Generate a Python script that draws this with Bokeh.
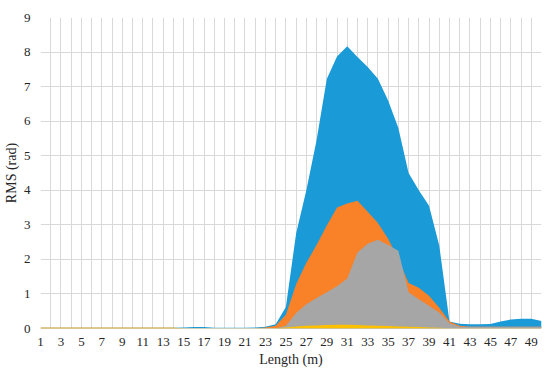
from bokeh.plotting import figure
from bokeh.models import FixedTicker, Range1d
from bokeh.embed import file_html
from bokeh.resources import INLINE

lengths = list(range(1, 51))
x_tick_labels = list(range(1, 50, 2))
y_ticks = list(range(0, 10))

series_blue = [0.02]*14 + [0.03, 0.04, 0.04, 0.02, 0.02, 0.02, 0.02, 0.03, 0.05, 0.12,
               0.62, 2.75, 4.0, 5.45, 7.22, 7.87, 8.17, 7.86, 7.57, 7.23,
               6.6, 5.8, 4.5, 4.0, 3.55, 2.4, 0.2, 0.14, 0.12, 0.12,
               0.13, 0.2, 0.26, 0.28, 0.28, 0.22]
series_orange = [0.02]*14 + [0.01]*8 + [0.03, 0.08,
                 0.4, 1.28, 1.9, 2.42, 2.98, 3.5, 3.62, 3.7, 3.38, 3.05,
                 2.6, 2.0, 1.32, 1.18, 0.95, 0.6, 0.2, 0.08, 0.05, 0.05,
                 0.05, 0.05, 0.05, 0.05, 0.05, 0.05]
series_gray = [0.01]*24 + [0.08, 0.45, 0.7, 0.88, 1.05, 1.22, 1.45, 2.2, 2.45, 2.57,
               2.42, 2.25, 1.05, 0.85, 0.66, 0.46, 0.15, 0.05, 0.05, 0.05,
               0.05, 0.05, 0.05, 0.05, 0.05, 0.05]
series_yellow = [0.02]*14 + [0.01]*10 + [0.03, 0.06, 0.08, 0.09, 0.1, 0.11, 0.11, 0.1, 0.09, 0.08,
                 0.07, 0.06, 0.05, 0.04, 0.03, 0.02, 0.01, 0.01, 0.01, 0.01,
                 0.01, 0.01, 0.01, 0.01, 0.01, 0.01]

colors = ["#1A9AD6", "#F98128", "#A6A6A6", "#FFC000"]
FONT = "Liberation Serif"

p = figure(width=550, height=374, output_backend="svg", toolbar_location=None,
           x_range=Range1d(1, 50), y_range=Range1d(0, 9),
           min_border_left=40, min_border_right=9, min_border_top=17, min_border_bottom=46)

for vals, c in zip([series_blue, series_orange, series_gray, series_yellow], colors):
    p.varea(x=lengths, y1=[0]*len(lengths), y2=vals, fill_color=c, fill_alpha=1.0)

p.xaxis.ticker = FixedTicker(ticks=x_tick_labels)
p.yaxis.ticker = FixedTicker(ticks=y_ticks)
p.xgrid.ticker = FixedTicker(ticks=lengths)
p.ygrid.ticker = FixedTicker(ticks=y_ticks)
for g in (p.xgrid, p.ygrid):
    g.grid_line_color = "#D9D9D9"
    g.grid_line_width = 1

p.outline_line_color = None
for ax in (p.xaxis, p.yaxis):
    ax.axis_line_color = None
    ax.major_tick_line_color = None
    ax.minor_tick_line_color = None
    ax.major_tick_out = 0
    ax.major_tick_in = 0
    ax.major_label_text_font = FONT
    ax.major_label_text_font_size = "13px"
    ax.major_label_text_color = "#262626"
    ax.axis_label_text_font = FONT
    ax.axis_label_text_font_size = "14px"
    ax.axis_label_text_font_style = "normal"
    ax.axis_label_text_color = "#262626"

p.xaxis.axis_label = "Length (m)"
p.yaxis.axis_label = "RMS (rad)"
p.xaxis.major_label_standoff = 9
p.yaxis.major_label_standoff = 10
p.xaxis.axis_label_standoff = 3
p.yaxis.axis_label_standoff = 2

open("out.html", "w").write(file_html(p, INLINE))
